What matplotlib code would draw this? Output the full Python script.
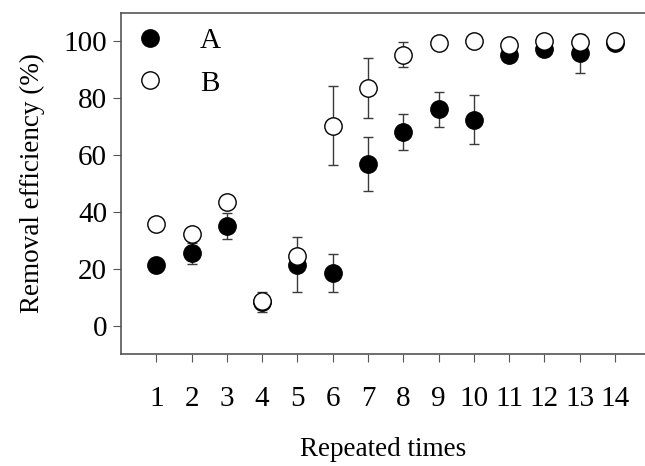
import matplotlib
matplotlib.use('Agg')
import matplotlib.pyplot as plt
import numpy as np

plt.rcParams['font.family'] = ['Liberation Serif', 'DejaVu Serif']

# data
times = np.arange(1, 15)
tick_labels = [str(t) for t in times]
a_vals = [21.5, 25.4, 35.2, 8.3, 21.5, 18.5, 57.0, 68.1, 76.1, 72.5, 95.4, 97.2, 95.8, 99.6]
a_err = [0, 3.8, 4.6, 3.6, 9.7, 6.7, 9.5, 6.3, 6.1, 8.6, 0, 1.5, 6.8, 0]
b_vals = [35.6, 32.3, 43.4, 8.8, 24.6, 70.4, 83.7, 95.4, 99.5, 100.2, 98.9, 100.0, 99.8, 100.0]
b_err = [0, 0, 0, 0, 0, 14.0, 10.5, 4.3, 0, 0, 0, 0, 0, 0]

fig = plt.figure(figsize=(6.45, 4.66), dpi=100)
ax = fig.add_axes([0.1876, 0.2403, 0.8124, 0.7317])

err_kw = dict(ecolor='#3a3a3a', elinewidth=1.0, capsize=3.6, capthick=1.0)
ax.errorbar(times, a_vals, yerr=a_err, fmt='o', ms=12.5, mfc='black', mec='black',
            label='A', zorder=3, **err_kw)
ax.errorbar(times, b_vals, yerr=b_err, fmt='o', ms=12.5, mfc='white', mec='black',
            mew=1.0, label='B', zorder=4, **err_kw)

ax.set_xlim(0, 14.85)
ax.set_ylim(-10, 110)
ax.set_xticks(times)
ax.set_xticklabels(tick_labels)
ax.set_yticks([0, 20, 40, 60, 80, 100])

for s in ['left', 'bottom', 'top']:
    ax.spines[s].set_color('#555555')
    ax.spines[s].set_linewidth(1.2)
ax.spines['right'].set_visible(False)

ax.tick_params(axis='x', direction='out', length=6, pad=17, labelsize=21, color='#555555')
ax.tick_params(axis='y', direction='out', length=6, pad=4, labelsize=21, color='#555555')

ax.set_xlabel('Repeated times', fontsize=19.5, labelpad=18)
ax.set_ylabel('Removal efficiency (%)', fontsize=19.5, labelpad=13)

handles, labels = ax.get_legend_handles_labels()
handles = [h[0] for h in handles]
ax.legend(handles, labels, loc='upper left', frameon=False, fontsize=21,
          handletextpad=1.2, labelspacing=0.55, borderaxespad=0.1, handlelength=1.0,
          bbox_to_anchor=(0.0, 1.0))

fig.savefig('out.png', dpi=100)
